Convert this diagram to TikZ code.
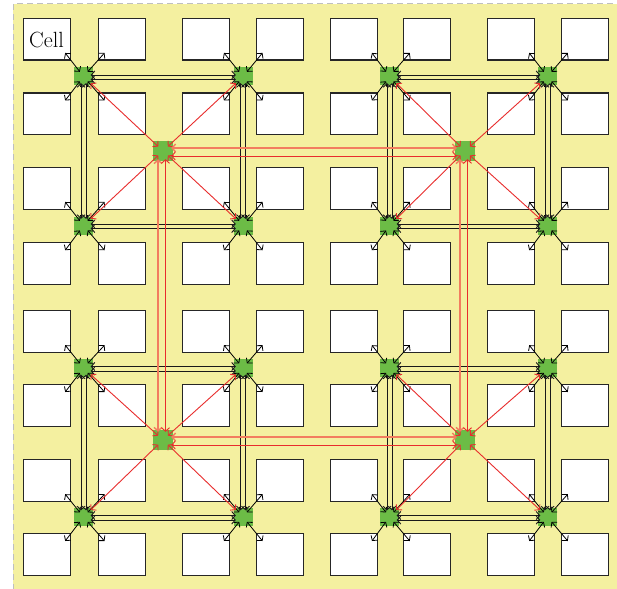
\documentclass[tikz,border=0pt]{standalone}
\usepackage{fontspec}
\usetikzlibrary{arrows.meta,calc}
\definecolor{bgyellow}{RGB}{244,240,160}
\definecolor{rgreen}{RGB}{108,188,70}
\definecolor{salmonline}{RGB}{242,125,95}
\definecolor{redline}{RGB}{232,45,45}
\begin{document}
\begin{tikzpicture}[x=1pt,y=-1pt,
  cellbox/.style={draw=black!85, fill=white, line width=1.3pt, minimum width=47pt, minimum height=41.5pt, inner sep=0pt, anchor=north west},
  router/.style={fill=rgreen, minimum width=19pt, minimum height=18pt, inner sep=0pt},
  routertwo/.style={fill=rgreen, minimum width=20pt, minimum height=20pt, inner sep=0pt},
  cellarrow/.style={draw=black, line width=0.8pt, >={Straight Barb[length=3.5pt,width=8pt]}, <->},
  blk/.style={draw=black!90, line width=0.9pt, >={Straight Barb[length=3.5pt,width=8pt]}, <->},
  reddiag/.style={draw=redline, line width=0.9pt, >={Straight Barb[length=3.5pt,width=8pt]}, <->},
  salmonpair/.style={draw=salmonline, line width=1.4pt, >={Straight Barb[length=3.5pt,width=8pt]}, <->},
  redpair/.style={draw=redline, line width=0.9pt, >={Straight Barb[length=3.5pt,width=8pt]}, <->}
]
\useasboundingbox (0,0) rectangle (617,588);
\fill[bgyellow] (13,4) rectangle (640,600);
\draw[black!25, line width=1pt, dash pattern=on 6pt off 4pt] (13,600) -- (13,4) -- (640,4);

% cells
\foreach \cx [count=\i] in {23,97.5,182,256,329.5,403,487,561} {
  \foreach \cy [count=\j] in {18,92.5,167,242,310,384,459,533} {
    \node[cellbox] (c-\j-\i) at (\cx,\cy) {};
  }
}
\node[font=\fontsize{22}{22}\selectfont] (celltxt) at (46.5,39.5) {Cell};

% level-1 routers
\foreach \x [count=\i] in {83.5,243,389.5,547.5} {
  \foreach \y [count=\j] in {76.5,225.5,368,517} {
    \node[router] (r-\j-\i) at (\x,\y) {};
  }
}
% level-2 routers
\node[routertwo] (s-1-1) at (163,151) {};
\node[routertwo] (s-1-2) at (465,151) {};
\node[routertwo] (s-2-1) at (163,440) {};
\node[routertwo] (s-2-2) at (465,440) {};

% cell arrows
\foreach \j in {1,2,3,4} {
  \foreach \i in {1,2,3,4} {
    \pgfmathtruncatemacro{\ra}{2*\j-1}
    \pgfmathtruncatemacro{\rb}{2*\j}
    \pgfmathtruncatemacro{\ca}{2*\i-1}
    \pgfmathtruncatemacro{\cb}{2*\i}
    \draw[cellarrow] ($(r-\j-\i.center)!0.3!(c-\ra-\ca.south east)$) -- ($(r-\j-\i.center)!1.5!(c-\ra-\ca.south east)$);
    \draw[cellarrow] ($(r-\j-\i.center)!0.3!(c-\ra-\cb.south west)$) -- ($(r-\j-\i.center)!1.5!(c-\ra-\cb.south west)$);
    \draw[cellarrow] ($(r-\j-\i.center)!0.3!(c-\rb-\ca.north east)$) -- ($(r-\j-\i.center)!1.5!(c-\rb-\ca.north east)$);
    \draw[cellarrow] ($(r-\j-\i.center)!0.3!(c-\rb-\cb.north west)$) -- ($(r-\j-\i.center)!1.5!(c-\rb-\cb.north west)$);
  }
}

% black pairs, horizontal
\foreach \j in {1,2,3,4} {
  \foreach \i/\k in {1/2,3/4} {
    \draw[blk] ($(r-\j-\i.east)+(-2.5,-1.5)$) -- ($(r-\j-\k.west)+(2.5,-1.5)$);
    \draw[blk] ($(r-\j-\i.east)+(-2.5,3)$) -- ($(r-\j-\k.west)+(2.5,3)$);
  }
}
% black pairs, vertical
\foreach \i in {1,2,3,4} {
  \foreach \j/\k in {1/2,3/4} {
    \draw[blk] ($(r-\j-\i.south)+(-2.5,-2.5)$) -- ($(r-\k-\i.north)+(-2.5,2.5)$);
    \draw[blk] ($(r-\j-\i.south)+(2.5,-2.5)$) -- ($(r-\k-\i.north)+(2.5,2.5)$);
  }
}

% red diagonals
\foreach \qj in {1,2} {
  \foreach \qi in {1,2} {
    \pgfmathtruncatemacro{\ra}{2*\qj-1}
    \pgfmathtruncatemacro{\rb}{2*\qj}
    \pgfmathtruncatemacro{\ca}{2*\qi-1}
    \pgfmathtruncatemacro{\cb}{2*\qi}
    \foreach \a/\b in {\ra/\ca,\ra/\cb,\rb/\ca,\rb/\cb} {
      \draw[reddiag] ($(r-\a-\b.center)!0.09!(s-\qj-\qi.center)$) -- ($(s-\qj-\qi.center)!0.06!(r-\a-\b.center)$);
    }
  }
}

% red pairs
\foreach \q in {1,2} {
  \draw[salmonpair] ($(s-\q-1.east)+(-2,-3)$) -- ($(s-\q-2.west)+(2,-3)$);
  \draw[redpair] ($(s-\q-1.east)+(-2,5)$) -- ($(s-\q-2.west)+(2,5)$);
  \draw[salmonpair] ($(s-1-\q.south)+(-5,-2)$) -- ($(s-2-\q.north)+(-5,2)$);
  \draw[redpair] ($(s-1-\q.south)+(2.5,-2)$) -- ($(s-2-\q.north)+(2.5,2)$);
}
\end{tikzpicture}
\end{document}
